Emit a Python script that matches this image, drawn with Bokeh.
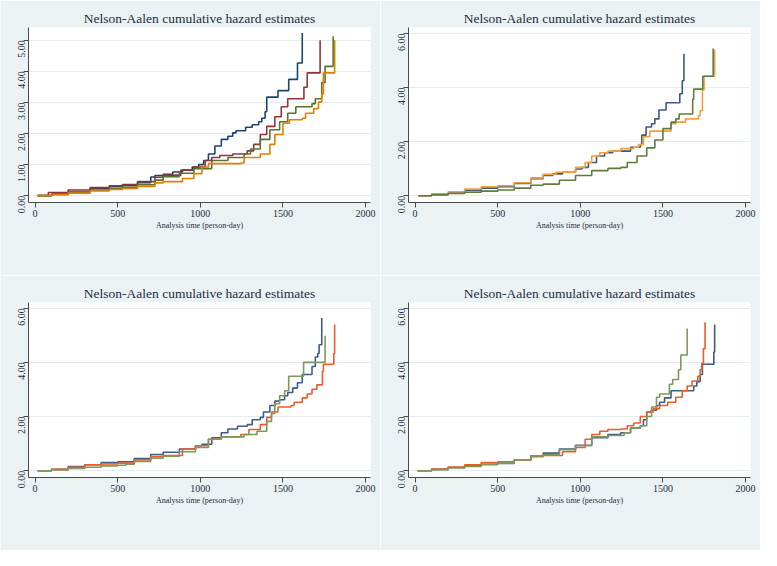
import math
from bokeh.plotting import figure
from bokeh.layouts import column, row
from bokeh.models import (Range1d, FixedTicker, NumeralTickFormatter, Legend,
                          LegendItem, Label)
from bokeh.embed import file_html
from bokeh.resources import INLINE

# ---------------- data ----------------
TITLE = "Nelson-Aalen cumulative hazard estimates"
XLABEL = "Analysis time (person-day)"
X_TICKS = [0, 500, 1000, 1500, 2000]

# Panel A: HEI quartiles
A_labels = ["HEI quartile 1", "HEI quartile 2", "HEI quartile 3", "HEI quartile 4"]
A_q1_t = [15, 100, 200, 333, 450, 529, 620, 700, 725, 775, 833, 892, 951, 990, 1020, 1049, 1088, 1127, 1167, 1196, 1216, 1274, 1314, 1353, 1372, 1392, 1402, 1470, 1535, 1588, 1617]
A_q1_h = [0, 0.05, 0.12, 0.23, 0.3, 0.33, 0.42, 0.6, 0.65, 0.69, 0.76, 0.82, 0.92, 1.0, 1.13, 1.34, 1.6, 1.81, 1.91, 2.02, 2.09, 2.2, 2.28, 2.38, 2.49, 2.7, 3.17, 3.38, 3.74, 4.27, 5.23]
A_q2_t = [15, 80, 200, 333, 450, 529, 620, 725, 775, 882, 961, 1029, 1069, 1118, 1196, 1284, 1323, 1363, 1402, 1451, 1490, 1529, 1627, 1647, 1725]
A_q2_h = [0, 0.1, 0.18, 0.26, 0.32, 0.36, 0.45, 0.59, 0.66, 0.82, 0.92, 1.13, 1.23, 1.29, 1.34, 1.44, 1.65, 1.97, 2.23, 2.54, 2.86, 3.12, 3.49, 3.95, 5.0]
A_q3_t = [15, 100, 200, 333, 450, 529, 620, 725, 775, 873, 961, 1069, 1167, 1265, 1304, 1363, 1421, 1480, 1529, 1578, 1676, 1696, 1735, 1755, 1804]
A_q3_h = [0, 0.04, 0.1, 0.18, 0.24, 0.27, 0.35, 0.5, 0.61, 0.72, 0.87, 1.13, 1.23, 1.34, 1.5, 1.81, 2.12, 2.38, 2.65, 2.86, 2.96, 3.12, 3.64, 4.16, 5.13]
A_q4_t = [15, 100, 200, 333, 450, 529, 620, 725, 775, 892, 961, 1010, 1049, 1245, 1265, 1363, 1421, 1451, 1500, 1539, 1617, 1637, 1686, 1715, 1735, 1745, 1813]
A_q4_h = [0, 0.03, 0.08, 0.15, 0.2, 0.23, 0.3, 0.41, 0.45, 0.55, 0.71, 0.92, 1.03, 1.05, 1.23, 1.34, 1.65, 1.97, 2.33, 2.44, 2.49, 2.65, 2.8, 3.01, 3.27, 3.95, 5.0]

# Panel B: plant-based diet tertiles
B_labels = ["Plant- based diet tertiles 1", "Plant- based diet tertiles 2", "Plant- based diet tertiles 3"]
B_t1_t = [20, 100, 200, 300, 400, 500, 600, 700, 775, 833, 892, 971, 1010, 1049, 1098, 1147, 1196, 1304, 1363, 1372, 1398, 1431, 1451, 1476, 1519, 1602, 1617, 1627]
B_t1_h = [0, 0.04, 0.1, 0.2, 0.28, 0.33, 0.45, 0.63, 0.75, 0.81, 0.87, 0.99, 1.05, 1.23, 1.47, 1.59, 1.65, 1.79, 1.89, 2.24, 2.54, 2.66, 2.84, 3.17, 3.44, 3.77, 4.25, 5.25]
B_t2_t = [20, 100, 200, 300, 400, 500, 600, 700, 775, 853, 971, 1029, 1069, 1118, 1167, 1245, 1323, 1353, 1382, 1421, 1549, 1578, 1637, 1715, 1725, 1739, 1749, 1813]
B_t2_h = [0, 0.06, 0.15, 0.25, 0.33, 0.37, 0.48, 0.66, 0.79, 0.87, 1.05, 1.23, 1.47, 1.59, 1.65, 1.74, 1.79, 1.89, 2.18, 2.39, 2.66, 2.72, 2.84, 2.96, 3.14, 3.91, 4.42, 5.4]
B_t3_t = [20, 100, 200, 300, 400, 500, 600, 700, 775, 873, 971, 1069, 1167, 1245, 1284, 1343, 1402, 1451, 1500, 1549, 1578, 1598, 1680, 1686, 1741, 1804]
B_t3_h = [0, 0.04, 0.08, 0.13, 0.17, 0.21, 0.28, 0.39, 0.43, 0.57, 0.75, 0.93, 1.01, 1.05, 1.23, 1.47, 1.77, 2.06, 2.48, 2.72, 2.84, 3.02, 3.56, 3.94, 4.42, 5.44]

# Panel C: high protein diet tertiles
C_labels = ["High protein diet tertile 1", "High protein diet tertile 2", "High protein diet tertile 3"]
C_t1_t = [15, 100, 200, 300, 400, 500, 600, 700, 775, 873, 971, 1010, 1069, 1127, 1167, 1225, 1284, 1314, 1363, 1382, 1421, 1451, 1480, 1510, 1529, 1559, 1588, 1617, 1676, 1696, 1711, 1719, 1735]
C_t1_h = [0, 0.05, 0.15, 0.22, 0.3, 0.33, 0.45, 0.6, 0.68, 0.8, 0.92, 0.98, 1.22, 1.4, 1.54, 1.64, 1.7, 1.88, 1.97, 2.17, 2.41, 2.57, 2.62, 2.77, 2.89, 3.05, 3.25, 3.55, 3.85, 4.2, 4.33, 4.65, 5.64]
C_t2_t = [15, 100, 200, 300, 400, 500, 600, 700, 775, 892, 971, 1049, 1127, 1245, 1294, 1363, 1402, 1431, 1470, 1549, 1568, 1617, 1647, 1676, 1705, 1739, 1745, 1808, 1813]
C_t2_h = [0, 0.05, 0.13, 0.22, 0.25, 0.28, 0.4, 0.52, 0.56, 0.8, 0.92, 1.16, 1.25, 1.34, 1.52, 1.7, 1.97, 2.17, 2.35, 2.41, 2.53, 2.69, 2.83, 3.01, 3.17, 3.67, 3.93, 4.33, 5.4]
C_t3_t = [15, 100, 200, 300, 400, 500, 550, 600, 700, 775, 873, 971, 1049, 1127, 1265, 1343, 1402, 1431, 1451, 1480, 1510, 1535, 1625, 1755]
C_t3_h = [0, 0.03, 0.08, 0.13, 0.18, 0.2, 0.24, 0.34, 0.46, 0.54, 0.7, 0.86, 1.16, 1.25, 1.34, 1.46, 1.82, 2.11, 2.47, 2.77, 2.95, 3.49, 4.0, 4.98]

# Panel D: unhealthy diet tertiles
D_labels = ["Unhealthy diet tertile 1", "Unhealthy diet tertile 2", "Unhealthy diet tertile 3"]
D_t1_t = [15, 100, 200, 300, 400, 500, 600, 700, 775, 873, 971, 1069, 1167, 1245, 1304, 1363, 1382, 1402, 1431, 1461, 1480, 1510, 1549, 1686, 1705, 1725, 1739, 1808, 1813]
D_t1_h = [0, 0.05, 0.12, 0.18, 0.24, 0.27, 0.4, 0.55, 0.65, 0.8, 0.94, 1.22, 1.34, 1.4, 1.58, 1.66, 1.88, 2.17, 2.23, 2.41, 2.53, 2.69, 2.95, 3.13, 3.29, 3.55, 3.93, 4.38, 5.4]
D_t2_t = [15, 100, 200, 300, 400, 500, 600, 700, 775, 892, 971, 1029, 1069, 1118, 1167, 1245, 1284, 1323, 1363, 1402, 1441, 1480, 1529, 1578, 1617, 1647, 1676, 1711, 1725, 1735, 1745, 1755]
D_t2_h = [0, 0.06, 0.14, 0.22, 0.3, 0.33, 0.4, 0.52, 0.56, 0.7, 0.86, 1.16, 1.34, 1.46, 1.52, 1.54, 1.66, 1.76, 2.0, 2.17, 2.29, 2.41, 2.53, 2.71, 2.95, 3.13, 3.31, 3.49, 3.73, 3.97, 4.5, 5.48]
D_t3_t = [15, 100, 200, 300, 400, 500, 600, 700, 775, 873, 971, 1069, 1167, 1265, 1304, 1363, 1402, 1431, 1461, 1480, 1539, 1559, 1594, 1608, 1647]
D_t3_h = [0, 0.04, 0.1, 0.16, 0.22, 0.28, 0.4, 0.55, 0.6, 0.78, 0.92, 1.25, 1.3, 1.4, 1.58, 1.66, 2.0, 2.35, 2.71, 2.83, 3.19, 3.37, 3.73, 4.27, 5.25]

# ---------------- styling ----------------
BG = "#eaf2f3"
GRID = "#e3ecee"
TXT = "#1f2d3d"
SERIF = "Liberation Serif"
COL_A = ["#1a476f", "#90353b", "#55752f", "#e37e00"]
COL_B = ["#3a5a85", "#f3a03c", "#5e7d3d"]
COL_CD = ["#3e5c88", "#ec5d2a", "#7d9a5c"]
X_LO, X_HI = -40, 2030


def panel(letter, series, labels, colors, y_ticks, y_lo, y_hi, leg_x):
    p = figure(frame_width=342, frame_height=175,
               x_range=Range1d(X_LO, X_HI), y_range=Range1d(y_lo, y_hi),
               output_backend="svg", toolbar_location=None,
               min_border_left=28, min_border_right=10,
               min_border_top=27, min_border_bottom=73,
               background_fill_color="white", border_fill_color=BG,
               outline_line_color=None)
    p.title.text = TITLE
    p.title.align = "center"
    p.title.text_font = SERIF
    p.title.text_font_style = "normal"
    p.title.text_font_size = "13.5px"
    p.title.text_color = TXT
    p.title.standoff = 3

    p.xgrid.visible = False
    p.ygrid.grid_line_color = GRID
    p.ygrid.grid_line_width = 1

    for ax in (p.xaxis[0], p.yaxis[0]):
        ax.axis_line_color = "#4a4a4a"
        ax.major_tick_line_color = "#4a4a4a"
        ax.major_tick_out = 5
        ax.major_tick_in = 0
        ax.minor_tick_line_color = None
        ax.major_label_text_font = SERIF
        ax.major_label_text_font_size = "10px"
        ax.major_label_text_color = TXT
        ax.major_label_standoff = 2

    p.xaxis.ticker = FixedTicker(ticks=X_TICKS)
    p.xaxis.axis_label = XLABEL
    p.xaxis.axis_label_text_font = SERIF
    p.xaxis.axis_label_text_font_style = "normal"
    p.xaxis.axis_label_text_font_size = "8px"
    p.xaxis.axis_label_text_color = TXT
    p.xaxis.axis_label_standoff = 1

    p.yaxis.ticker = FixedTicker(ticks=y_ticks)
    p.yaxis.formatter = NumeralTickFormatter(format="0.00")
    p.yaxis.major_label_orientation = math.pi / 2

    items = []
    for (t, h), lab, c in zip(series, labels, colors):
        r = p.step(t, h, mode="after", line_color=c, line_width=1.6)
        items.append(LegendItem(label=lab, renderers=[r]))

    n = len(items)
    ordered = [items[i] for i in range(0, n, 2)] + [items[i] for i in range(1, n, 2)]

    # legend drawn in the plot's centre layer, placed just under the axis title
    leg = Legend(items=ordered, ncols=2, location=(leg_x, -34))
    leg.label_text_font = SERIF
    leg.label_text_font_size = "8px"
    leg.label_text_color = TXT
    leg.glyph_width = 35
    leg.glyph_height = 11
    leg.label_height = 11
    leg.label_standoff = 6
    leg.spacing = 2
    leg.padding = 4
    leg.margin = 0
    leg.border_line_color = "#333333"
    leg.border_line_width = 1
    leg.background_fill_color = "white"
    leg.background_fill_alpha = 1
    p.add_layout(leg, "center")

    p.add_layout(Label(x=X_LO, y=y_hi, x_offset=-25, y_offset=12,
                       text=letter, text_font=SERIF, text_font_style="bold",
                       text_font_size="17px", text_color="#000000",
                       text_baseline="alphabetic", level="overlay"))
    return p


pA = panel("A", [(A_q1_t, A_q1_h), (A_q2_t, A_q2_h), (A_q3_t, A_q3_h), (A_q4_t, A_q4_h)],
           A_labels, COL_A, [0, 1, 2, 3, 4, 5], -0.22, 5.41, 53)
pB = panel("B", [(B_t1_t, B_t1_h), (B_t2_t, B_t2_h), (B_t3_t, B_t3_h)],
           B_labels, COL_B, [0, 2, 4, 6], -0.25, 6.22, 38)
pC = panel("C", [(C_t1_t, C_t1_h), (C_t2_t, C_t2_h), (C_t3_t, C_t3_h)],
           C_labels, COL_CD, [0, 2, 4, 6], -0.25, 6.21, 39)
pD = panel("D", [(D_t1_t, D_t1_h), (D_t2_t, D_t2_h), (D_t3_t, D_t3_h)],
           D_labels, COL_CD, [0, 2, 4, 6], -0.25, 6.21, 48)

layout = column(row(pA, pB), row(pC, pD))
open("out.html", "w").write(file_html(layout, INLINE))
